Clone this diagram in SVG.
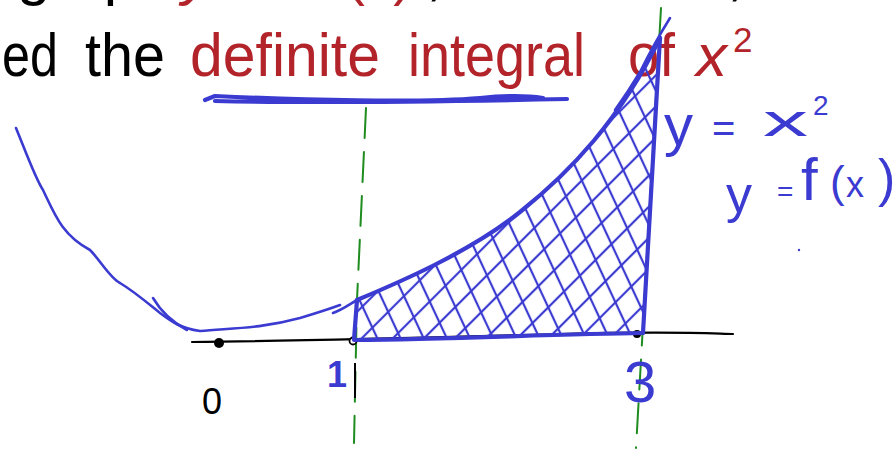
<svg xmlns="http://www.w3.org/2000/svg" width="895" height="451" viewBox="0 0 895 451">
<style>
.slide{font-family:"Liberation Sans","DejaVu Sans",sans-serif}
.blk{fill:#000}
.red{fill:#b3232a}
.ink{fill:#3b3bd1;font-family:"Liberation Sans","DejaVu Sans",sans-serif}
.pen{fill:none;stroke:#3b3bd1;stroke-linecap:round;stroke-linejoin:round}
.thin{stroke-width:2.6}
.thick{stroke-width:4.2}
.guide{fill:none;stroke:#1e8c1e;stroke-width:2;stroke-dasharray:30 14;stroke-linecap:round}
</style>
<defs>
<pattern id="hA" width="21" height="20" patternUnits="userSpaceOnUse" patternTransform="rotate(-25)">
<line x1="10" y1="-2" x2="10" y2="22" stroke="#3b3bd1" stroke-width="2.2"/>
</pattern>
<pattern id="hB" width="22" height="20" patternUnits="userSpaceOnUse" patternTransform="rotate(45)">
<line x1="11" y1="-2" x2="11" y2="22" stroke="#3b3bd1" stroke-width="2.2"/>
</pattern>
</defs>
<rect width="895" height="451" fill="#fff"/>

<g id="slide-text">
<text class="slide blk" x="17" y="-6" font-size="60">graph</text>
<text class="slide red" x="182" y="-6" font-size="60" font-style="italic">y</text>
<text class="slide red" x="346" y="-6" font-size="60" textLength="66" lengthAdjust="spacingAndGlyphs">(x)</text>
<text class="slide blk" x="426" y="-6" font-size="60">,</text>
<text class="slide blk" x="727" y="-6" font-size="60">,</text>
<text class="slide blk" x="2" y="76" font-size="62" textLength="56" lengthAdjust="spacingAndGlyphs">ed</text>
<text class="slide blk" x="85" y="76" font-size="62" textLength="80" lengthAdjust="spacingAndGlyphs">the</text>
<text class="slide red" x="190" y="76" font-size="62" textLength="190" lengthAdjust="spacingAndGlyphs">definite</text>
<text class="slide red" x="408" y="76" font-size="62" textLength="177" lengthAdjust="spacingAndGlyphs">integral</text>
<text class="slide red" x="628" y="76" font-size="62" textLength="47" lengthAdjust="spacingAndGlyphs">of</text>
<text class="slide red" x="696" y="76" font-size="60" font-style="italic" textLength="31" lengthAdjust="spacingAndGlyphs">x</text>
<text class="slide red" x="733" y="52" font-size="35">2</text>
</g>

<g id="guides">
<path class="guide" d="M366,108 L357,300 L354,443"/>
<path class="guide" d="M661,8 L636,448"/>
</g>

<g id="axis">
<path d="M192,342 C300,341 450,337 560,334 S700,333 733,334" fill="none" stroke="#000" stroke-width="2.2" stroke-linecap="round"/>
<circle cx="219" cy="343" r="5" fill="#000"/>
<circle cx="353" cy="341" r="3.5" fill="#fff" stroke="#000" stroke-width="1.8"/>
<circle cx="637" cy="334" r="4" fill="#000"/>
<path d="M355,363 L355,398" stroke="#000" stroke-width="2" fill="none"/>
</g>

<g id="region">
<path d="M357,300 C400,282 470,252 520,212 C570,172 620,120 660,38 C655,120 650,200 643,333 L356,340 Z" fill="url(#hA)"/>
<path d="M357,300 C400,282 470,252 520,212 C570,172 620,120 660,38 C655,120 650,200 643,333 L356,340 Z" fill="url(#hB)"/>
<path class="pen thick" d="M357,300 C400,282 470,252 520,212 C570,172 620,120 660,38"/>
<path class="pen thick" d="M660,38 C655,120 650,200 643,333"/>
<path class="pen thick" d="M356,340 C450,339 560,334 643,333"/>
<path class="pen thick" d="M357,300 L354,340"/>
<path class="pen thin" d="M670,18 Q655,42 640,72 Q628,92 615,110"/>
</g>

<g id="curve">
<path class="pen thin" d="M16,128 C25,150 36,180 43,190 C55,215 62,235 90,250 C100,260 110,278 120,283 C135,292 150,305 160,313 C172,322 180,328 200,331 C230,328 260,329 300,318 C320,312 332,308 340,305"/>
<path class="pen thin" d="M153,298 C160,310 172,322 187,330"/>
<path class="pen thin" d="M333,313 C342,310 350,304 357,300"/>
<path class="pen thick" d="M205,100 L215,96 C300,100 420,103 480,98 C510,95 530,96 543,98 M215,101 C300,103 420,102 567,99"/>
</g>

<g id="labels">
<text class="blk" x="202" y="414" font-family="Liberation Sans, sans-serif" font-size="36">0</text>
<text class="ink" x="327" y="387" font-size="36" font-weight="bold">1</text>
<text class="ink" x="624" y="402" font-size="58">3</text>
<text class="ink" x="664" y="145" font-size="58">y</text>
<text class="ink" x="712" y="142" font-size="40">=</text>
<text class="ink" x="763" y="136" font-size="44" textLength="45" lengthAdjust="spacingAndGlyphs">x</text>
<text class="ink" x="813" y="115" font-size="28">2</text>
<text class="ink" x="726" y="212" font-size="52">y</text>
<text class="ink" x="777" y="201" font-size="28">=</text>
<text class="ink" x="801" y="200" font-size="60">f</text>
<text class="ink" x="830" y="197" font-size="44">(</text>
<text class="ink" x="846" y="197" font-size="36">x</text>
<text class="ink" x="878" y="196" font-size="52">)</text>
<circle cx="799" cy="250" r="1.2" fill="#3b3bd1"/>
</g>
</svg>
